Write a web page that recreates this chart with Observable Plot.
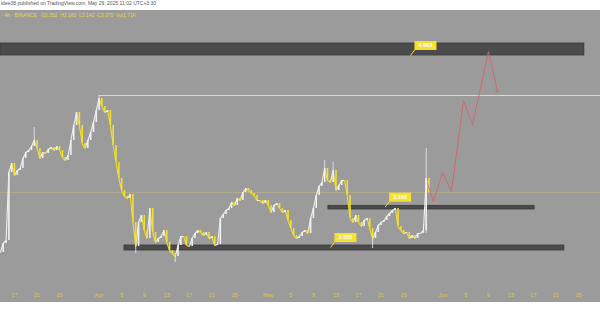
<!DOCTYPE html>
<html>
<head>
<meta charset="utf-8">
<script src="https://cdn.jsdelivr.net/npm/d3@7"></script>
<script src="https://cdn.jsdelivr.net/npm/@observablehq/plot@0.6"></script>
<style>
  html, body { margin: 0; padding: 0; background: #ffffff; width: 600px; height: 315px; overflow: hidden; }
  #top { height: 10px; line-height: 10px; font: 5px "Liberation Sans", Arial, sans-serif; color: #555; white-space: nowrap; overflow: hidden; padding-left: 1px; }
  #chart svg { display: block; }
</style>
</head>
<body>
<div id="top">idee38 published on TradingView.com, May 29, 2025 11:02 UTC+3:30</div>
<div id="chart"></div>
<script>
// ---- data ----
const seriesStart = "2025-03-14T12:00:00Z"; // 12h steps
const closes = [
  2.48, 2.615, 2.66, 3.68, 3.815, 3.635, 3.71, 3.74, 3.89, 3.98,
  4.01, 4.07, 4.16, 4.04, 3.89, 3.98, 3.965, 4.025, 4.055, 4.01,
  4.07, 4.01, 3.905, 3.86, 3.935, 4.16, 4.385, 4.58, 4.385, 4.115,
  4.04, 4.16, 4.28, 4.43, 4.61, 4.79, 4.67, 4.58, 4.61, 4.385,
  4.085, 3.83, 3.59, 3.41, 3.32, 3.29, 3.35, 2.93, 2.57, 2.93,
  3.035, 2.81, 2.69, 3.14, 2.78, 2.63, 2.69, 2.72, 2.81, 2.63,
  2.51, 2.465, 2.42, 2.585, 2.72, 2.72, 2.585, 2.57, 2.69, 2.765,
  2.81, 2.78, 2.735, 2.78, 2.69, 2.72, 2.585, 2.60, 2.99, 3.05,
  3.11, 3.14, 3.23, 3.185, 3.29, 3.26, 3.38, 3.44, 3.41, 3.365,
  3.335, 3.26, 3.26, 3.215, 3.26, 3.185, 3.08, 3.185, 3.215, 3.14,
  3.08, 3.11, 2.96, 2.84, 2.735, 2.69, 2.72, 2.78, 2.81, 2.765,
  2.99, 3.14, 3.335, 3.47, 3.53, 3.74, 3.56, 3.53, 3.71, 3.41,
  3.485, 3.56, 3.56, 3.335, 2.99, 2.93, 3.035, 2.93, 2.87, 2.96,
  2.99, 2.84, 2.69, 2.78, 2.885, 2.93, 2.96, 3.02, 3.065, 3.11,
  3.14, 2.87, 2.81, 2.765, 2.78, 2.69, 2.735, 2.69, 2.765, 2.765,
  2.81, 3.59, 3.38
];

const wickDates = ["2025-03-20T12:00Z", "2025-04-01T00:00Z", "2025-04-07T12:00Z", "2025-04-14T12:00Z", "2025-05-11T00:00Z", "2025-05-12T12:00Z", "2025-05-19T12:00Z", "2025-05-29T00:00Z"];
const wickLows  = [4.16, 4.79, 2.465, 2.33, 3.74, 3.71, 2.54, 2.765];
const wickHighs = [4.355, 4.835, 2.57, 2.42, 3.86, 3.83, 2.69, 4.04];

const currentPrice = 3.38;
const athPrice = 4.835;
const athStart = "2025-04-01T00:00Z";

const zoneStarts = ["2025-03-14T12:00Z", "2025-05-11T16:00Z", "2025-04-05T12:00Z"];
const zoneEnds   = ["2025-06-26T01:00Z", "2025-06-17T05:00Z", "2025-06-22T12:00Z"];
const zoneLows   = [5.435, 3.125, 2.51];
const zoneHighs  = [5.615, 3.18, 2.585];

const projDates  = ["2025-05-29T05:30Z", "2025-05-30T07:00Z", "2025-05-31T21:00Z", "2025-06-02T11:30Z", "2025-06-04T14:30Z", "2025-06-06T05:00Z", "2025-06-09T01:00Z", "2025-06-10T15:30Z"];
const projPrices = [3.515, 3.245, 3.68, 3.395, 4.76, 4.40, 5.495, 4.895];

const labelDates  = ["2025-05-26T05:00Z", "2025-05-21T17:00Z", "2025-05-12T00:45Z"];
const labelPrices = [5.435, 3.16, 2.555];
const labelTexts  = ["4.663", "3.160", "2.555"];

const tickDates = ["2025-03-17", "2025-03-21", "2025-03-25", "2025-04-01", "2025-04-05", "2025-04-09", "2025-04-13", "2025-04-17", "2025-04-21", "2025-04-25", "2025-05-01", "2025-05-05", "2025-05-09", "2025-05-13", "2025-05-17", "2025-05-21", "2025-05-25", "2025-06-01", "2025-06-05", "2025-06-09", "2025-06-13", "2025-06-17", "2025-06-21", "2025-06-25"];
const monthNames = ["Jan", "Feb", "Mar", "Apr", "May", "Jun", "Jul", "Aug", "Sep", "Oct", "Nov", "Dec"];

const headerText = "· 4h · BINANCE   O3.352  H3.160  L3.142  C3.370  Vol1.71K";

// ---- tables ----
const start = new Date(seriesStart);
const candles = closes.map((c, i) => ({date: d3.utcHour.offset(start, 12 * i), close: c}));
const segs = candles.slice(1).map((d, i) => ({
  x1: candles[i].date, y1: candles[i].close, x2: d.date, y2: d.close,
  up: d.close >= candles[i].close
}));
const wicks = wickDates.map((d, i) => ({date: new Date(d), lo: wickLows[i], hi: wickHighs[i]}));
const zones = zoneStarts.map((d, i) => ({x1: new Date(d), x2: new Date(zoneEnds[i]), y1: zoneLows[i], y2: zoneHighs[i]}));
const proj = projDates.map((d, i) => ({date: new Date(d), price: projPrices[i]}));
const labels = labelDates.map((d, i) => ({date: new Date(d), price: labelPrices[i], text: labelTexts[i]}));
const ticks = tickDates.map(d => new Date(d + "T00:00Z"));

const boxSymbol = {draw(ctx) { ctx.rect(-11, -4.5, 22, 9); }};
const leaderSymbol = {draw(ctx) { ctx.moveTo(0, 0); ctx.lineTo(4.5, -6); }};

const yellow = "#f3df2e";
const upColor = "#f0f0f0";
const chart = Plot.plot({
  width: 600,
  height: 292,
  marginTop: 0,
  marginBottom: 16,
  marginLeft: 0,
  marginRight: 0,
  style: {background: "#9b9b9b", fontFamily: "'Liberation Sans', Arial, sans-serif", overflow: "hidden"},
  x: {type: "utc", domain: [new Date("2025-03-14T12:26Z"), new Date("2025-06-28T21:36Z")]},
  y: {domain: [1.97, 6.11], axis: null},
  marks: [
    Plot.ruleY([currentPrice], {stroke: "#b8b388", strokeWidth: 0.7}),
    Plot.ruleY([athPrice], {x1: new Date(athStart), x2: new Date("2025-07-05T00:00Z"), stroke: "#dedede", strokeWidth: 0.9}),
    Plot.rect(zones, {x1: "x1", x2: "x2", y1: "y1", y2: "y2", fill: "#4b4b4b", stroke: "#373737", strokeWidth: 0.8}),
    Plot.ruleX(wicks, {x: "date", y1: "lo", y2: "hi", stroke: "#eeeeee", strokeWidth: 0.8}),
    Plot.link(segs, {x1: "x1", y1: "y1", x2: "x2", y2: "y2", stroke: d => d.up ? upColor : yellow, strokeWidth: 1.1}),
    Plot.ruleX(segs, {x: "x2", y1: "y1", y2: "y2", stroke: d => d.up ? upColor : yellow, strokeWidth: 1.6}),
    Plot.line(proj, {x: "date", y: "price", stroke: "#d6616e", strokeWidth: 0.9, markerEnd: "arrow"}),
    Plot.dot(labels, {x: "date", y: "price", symbol: leaderSymbol, r: 3, stroke: yellow, strokeWidth: 1, fill: "none"}),
    Plot.dot(labels, {x: "date", y: "price", symbol: boxSymbol, r: 3, fill: "#f5e22c", stroke: "none", dx: 15, dy: -10}),
    Plot.text(labels, {x: "date", y: "price", text: "text", dx: 15, dy: -10, fill: "white", fontWeight: "bold", fontSize: 5.5}),
    Plot.axisX({ticks: ticks, tickFormat: d => d.getUTCDate() === 1 ? monthNames[d.getUTCMonth()] : String(d.getUTCDate()), tickSize: 0, tickPadding: 7, fontSize: 5.5, color: "#ddcc4c", label: null}),
    Plot.text([headerText], {frameAnchor: "top-left", dx: 1, dy: 3, textAnchor: "start", lineAnchor: "top", fill: "#e8d74a", fontSize: 5})
  ]
});
document.getElementById("chart").appendChild(chart);
</script>
</body>
</html>
